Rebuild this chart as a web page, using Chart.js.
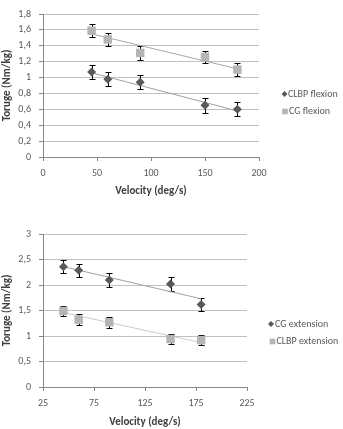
<!DOCTYPE html>
<html>
<head>
<meta charset="utf-8">
<script src="https://cdn.jsdelivr.net/npm/chart.js@4.4.0/dist/chart.umd.min.js"></script>
<style>
  body { margin: 0; background: #fff; }
  #wrap { position: relative; width: 343px; height: 429px; }
  canvas { position: absolute; left: 0; }
</style>
</head>
<body>
<div id="wrap">
  <canvas id="flexChart" width="343" height="215" style="top:0"></canvas>
  <canvas id="extChart" width="343" height="214" style="top:215px"></canvas>
</div>
<script>
// Velocities (deg/s)
const velocities = [45, 60, 90, 150, 180];
const trendX = [45, 180];

// Flexion chart
const clbpFlexion = [1.07, 0.98, 0.94, 0.65, 0.60];
const clbpFlexionErr = [0.09, 0.09, 0.09, 0.09, 0.09];
const cgFlexion = [1.59, 1.48, 1.31, 1.26, 1.10];
const cgFlexionErr = [0.08, 0.08, 0.085, 0.08, 0.08];
const clbpFlexionTrend = [1.06, 0.58];
const cgFlexionTrend = [1.55, 1.11];
const flexYTicks = ['0', '0,2', '0,4', '0,6', '0,8', '1', '1,2', '1,4', '1,6', '1,8'];

// Extension chart
const cgExtension = [2.36, 2.29, 2.10, 2.02, 1.62];
const cgExtensionErr = [0.13, 0.13, 0.13, 0.13, 0.125];
const clbpExtension = [1.49, 1.32, 1.27, 0.94, 0.92];
const clbpExtensionErr = [0.105, 0.105, 0.105, 0.105, 0.105];
const cgExtensionTrend = [2.36, 1.73];
const clbpExtensionTrend = [1.46, 0.87];
const extYTicks = ['0', '0,5', '1', '1,5', '2', '2,5', '3'];

const DARK = '#595959';
const LIGHT = '#b5b5b5';
const FONT = "Carlito, 'Liberation Sans', Arial, sans-serif";

Chart.defaults.font.family = FONT;
Chart.defaults.font.size = 10;
Chart.defaults.color = '#595959';

function points(xs, ys) {
  return xs.map((x, i) => ({ x: x, y: ys[i] }));
}

// draws the vertical error bars behind the markers
const errorBars = {
  id: 'errorBars',
  beforeDatasetsDraw(chart) {
    const ctx = chart.ctx;
    const x = chart.scales.x, y = chart.scales.y;
    ctx.save();
    ctx.strokeStyle = '#000';
    ctx.lineWidth = 1;
    chart.data.datasets.forEach(ds => {
      if (!ds.errors) return;
      ds.data.forEach((p, i) => {
        const px = Math.round(x.getPixelForValue(p.x)) + 0.5;
        const top = Math.round(y.getPixelForValue(p.y + ds.errors[i])) + 0.5;
        const bot = Math.round(y.getPixelForValue(p.y - ds.errors[i])) + 0.5;
        ctx.beginPath();
        ctx.moveTo(px, top); ctx.lineTo(px, bot);
        ctx.moveTo(px - 3, top); ctx.lineTo(px + 3, top);
        ctx.moveTo(px - 3, bot); ctx.lineTo(px + 3, bot);
        ctx.stroke();
      });
    });
    ctx.restore();
  }
};

// simple legend on the right side
const sideLegend = {
  id: 'sideLegend',
  afterDraw(chart, args, opts) {
    const ctx = chart.ctx;
    ctx.save();
    opts.items.forEach(item => {
      ctx.fillStyle = item.color;
      ctx.strokeStyle = item.color;
      Chart.helpers.drawPoint(ctx, { pointStyle: item.style, radius: item.radius, borderWidth: 0 }, item.mx, item.y);
      ctx.fillStyle = '#595959';
      ctx.font = '10px ' + FONT;
      ctx.textBaseline = 'middle';
      ctx.textAlign = 'left';
      ctx.fillText(item.text, item.tx, item.y);
    });
    ctx.restore();
  }
};

function scatterSet(label, ys, errs, style, color, radius) {
  return {
    type: 'scatter',
    label: label,
    data: points(velocities, ys),
    errors: errs,
    pointStyle: style,
    pointRadius: radius,
    pointHoverRadius: radius,
    backgroundColor: color,
    borderColor: color,
    borderWidth: 0,
    order: 1
  };
}

function trendSet(ys, color) {
  return {
    type: 'line',
    data: points(trendX, ys),
    borderColor: color,
    borderWidth: 1,
    pointRadius: 0,
    fill: false,
    order: 2
  };
}

function makeOptions(cfg) {
  return {
    responsive: false,
    animation: false,
    layout: { padding: cfg.padding },
    plugins: {
      legend: { display: false },
      tooltip: { enabled: false },
      sideLegend: { items: cfg.legend }
    },
    scales: {
      x: {
        type: 'linear',
        min: cfg.xMin, max: cfg.xMax,
        ticks: { stepSize: 50, padding: 6, color: '#595959' },
        grid: { drawOnChartArea: false, drawTicks: true, tickLength: 4, tickColor: '#868686' },
        border: { display: true, color: '#868686' },
        title: { display: true, text: 'Velocity (deg/s)', color: '#404040', font: { weight: 'bold', size: 11 }, padding: cfg.xTitlePad },
        afterFit: s => { s.height = cfg.xHeight; }
      },
      y: {
        min: 0, max: cfg.yMax,
        ticks: {
          stepSize: cfg.yStep, padding: 8, color: '#595959',
          callback: (v, i) => cfg.yTicks[i]
        },
        grid: { color: '#c0c0c0', tickLength: 4, tickColor: '#868686' },
        border: { display: true, color: '#868686' },
        title: { display: true, text: 'Toruge (Nm/kg)', color: '#404040', font: { weight: 'bold', size: 11 }, padding: { top: 0, bottom: 3 } },
        afterFit: s => { s.width = 42; }
      }
    }
  };
}

new Chart(document.getElementById('flexChart'), {
  data: {
    datasets: [
      scatterSet('CLBP flexion', clbpFlexion, clbpFlexionErr, 'rectRot', DARK, 4.5),
      scatterSet('CG flexion', cgFlexion, cgFlexionErr, 'rect', LIGHT, 6),
      trendSet(clbpFlexionTrend, '#a0a0a0'),
      trendSet(cgFlexionTrend, '#a8a8a8')
    ]
  },
  options: makeOptions({
    padding: { left: 1, top: 6, right: 84, bottom: 13 },
    xMin: 0, xMax: 200, yMax: 1.8, yStep: 0.2, yTicks: flexYTicks,
    xHeight: 45, xTitlePad: { top: 4, bottom: 4 },
    legend: [
      { text: 'CLBP flexion', style: 'rectRot', color: DARK, radius: 3, mx: 284.5, tx: 288, y: 94 },
      { text: 'CG flexion', style: 'rect', color: LIGHT, radius: 4, mx: 285, tx: 289, y: 111.5 }
    ]
  }),
  plugins: [errorBars, sideLegend]
});

new Chart(document.getElementById('extChart'), {
  data: {
    datasets: [
      scatterSet('CG extension', cgExtension, cgExtensionErr, 'rectRot', DARK, 4.5),
      scatterSet('CLBP extension', clbpExtension, clbpExtensionErr, 'rect', LIGHT, 6),
      trendSet(cgExtensionTrend, '#a0a0a0'),
      trendSet(clbpExtensionTrend, '#cccccc')
    ]
  },
  options: makeOptions({
    padding: { left: 1, top: 19, right: 96, bottom: 0 },
    xMin: 25, xMax: 225, yMax: 3, yStep: 0.5, yTicks: extYTicks,
    xHeight: 42, xTitlePad: { top: 0, bottom: 0 },
    legend: [
      { text: 'CG extension', style: 'rectRot', color: DARK, radius: 3, mx: 271, tx: 275, y: 109 },
      { text: 'CLBP extension', style: 'rect', color: LIGHT, radius: 4, mx: 272.5, tx: 276.5, y: 126.5 }
    ]
  }),
  plugins: [errorBars, sideLegend]
});
</script>
</body>
</html>
